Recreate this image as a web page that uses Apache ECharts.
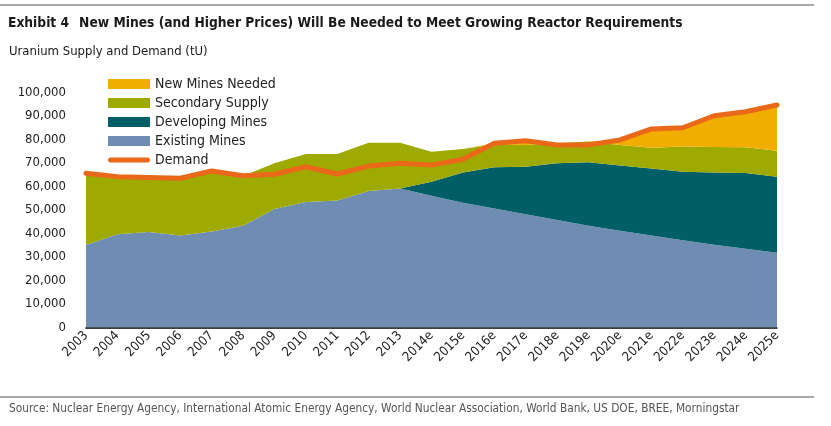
<!DOCTYPE html>
<html>
<head>
<meta charset="utf-8">
<script src="https://cdn.jsdelivr.net/npm/echarts@6/dist/echarts.min.js"></script>
<style>
html,body{margin:0;padding:0;background:#fff;}
#chart{width:831px;height:426px;}
</style>
</head>
<body>
<div id="chart"></div>
<script>
var categories = ['2003','2004','2005','2006','2007','2008','2009','2010','2011','2012','2013','2014e','2015e','2016e','2017e','2018e','2019e','2020e','2021e','2022e','2023e','2024e','2025e'];
var existingMines = [35100, 39700, 40600, 39200, 40800, 43300, 50400, 53400, 54000, 58100, 59200, 56100, 53100, 50600, 48200, 45700, 43300, 41200, 39100, 37100, 35200, 33500, 31800];
var developingMines = [0, 0, 0, 0, 0, 0, 0, 0, 0, 0, 0, 5900, 12900, 17600, 20200, 24200, 27000, 27700, 28600, 29200, 30800, 32200, 32400];
var secondarySupply = [30400, 24300, 22900, 24100, 25400, 21200, 19500, 20400, 19800, 20500, 19400, 12800, 10000, 9700, 9300, 8500, 8900, 8800, 8800, 10700, 10800, 11000, 11000];
var newMinesNeeded = [0, 0, 0, 0, 0, 0, 0, 0, 0, 0, 0, 0, 0, 500, 1800, 0, 0, 2100, 8000, 8000, 13300, 15100, 19500];
var demand = [65600, 64200, 63800, 63500, 66600, 64600, 65200, 68400, 65300, 68700, 69900, 69100, 71600, 78400, 79500, 77700, 77700, 79800, 84500, 85000, 90100, 91800, 94700];
var yTicks = {min: 0, max: 100000, interval: 10000};

var FONT = "'Liberation Sans Narrow', 'DejaVu Sans Condensed', 'Roboto', sans-serif";
var chart = echarts.init(document.getElementById('chart'));

function areaSeries(name, data, color) {
  return {
    name: name, type: 'line', stack: 'supply', data: data,
    symbol: 'none', smooth: false,
    lineStyle: {width: 0, color: color},
    itemStyle: {color: color},
    areaStyle: {color: color, opacity: 1},
    emphasis: {disabled: true}
  };
}

chart.setOption({
  animation: false,
  backgroundColor: '#fff',
  title: [
    {
      text: '{b|Exhibit 4}  {r|New Mines (and Higher Prices) Will Be Needed to Meet Growing Reactor Requirements}',
      left: 3, top: 9,
      textStyle: {
        rich: {
          b: {fontFamily: FONT, fontSize: 13.7, fontWeight: 'bold', color: '#1a1a1a'},
          r: {fontFamily: FONT, fontSize: 13.7, color: '#1a1a1a'}
        }
      }
    },
    {
      text: 'Uranium Supply and Demand (tU)',
      left: 4, top: 40,
      textStyle: {fontFamily: FONT, fontSize: 13, fontWeight: 'normal', color: '#1a1a1a'}
    },
    {
      text: 'Source: Nuclear Energy Agency, International Atomic Energy Agency, World Nuclear Association, World Bank, US DOE, BREE, Morningstar',
      left: 4, top: 398,
      textStyle: {fontFamily: FONT, fontSize: 11.8, fontWeight: 'normal', color: '#555'}
    }
  ],
  graphic: [
    {type: 'line', shape: {x1: 0, y1: 5, x2: 814, y2: 5}, style: {stroke: '#8a8a8a', lineWidth: 1.5}},
    {type: 'line', shape: {x1: 0, y1: 397, x2: 814, y2: 397}, style: {stroke: '#8a8a8a', lineWidth: 1.5}}
  ],
  legend: {
    orient: 'vertical',
    left: 103, top: 71.5,
    itemWidth: 42, itemHeight: 10, itemGap: 4,
    textStyle: {fontFamily: FONT, fontSize: 14, lineHeight: 15, color: '#222'},
    data: [
      {name: 'New Mines Needed', icon: 'rect'},
      {name: 'Secondary Supply', icon: 'rect'},
      {name: 'Developing Mines', icon: 'rect'},
      {name: 'Existing Mines', icon: 'rect'},
      {name: 'Demand', icon: 'path://M2.5,0 L39.5,0 A2.5,2.5 0 0 1 39.5,5 L2.5,5 A2.5,2.5 0 0 1 2.5,0 Z'}
    ],
    selectedMode: false
  },
  grid: {left: 86, right: 54, top: 92.5, bottom: 98.5, containLabel: false},
  xAxis: {
    type: 'category', data: categories, boundaryGap: false,
    axisLine: {show: true, lineStyle: {color: '#000', width: 1.5}},
    axisTick: {show: false},
    axisLabel: {interval: 0, rotate: 45, margin: 6, fontFamily: FONT, fontSize: 13, color: '#222'}
  },
  yAxis: {
    type: 'value', min: yTicks.min, max: yTicks.max, interval: yTicks.interval,
    axisLine: {show: false}, axisTick: {show: false}, splitLine: {show: false},
    axisLabel: {
      margin: 20, fontFamily: FONT, fontSize: 13, color: '#222',
      formatter: function (v) { return v.toLocaleString('en-US'); }
    }
  },
  series: [
    areaSeries('Existing Mines', existingMines, '#6F8DB2'),
    areaSeries('Developing Mines', developingMines, '#005F66'),
    areaSeries('Secondary Supply', secondarySupply, '#9FAA00'),
    areaSeries('New Mines Needed', newMinesNeeded, '#F2AE00'),
    {
      name: 'Demand', type: 'line', data: demand, symbol: 'none',
      lineStyle: {width: 5, color: '#E9681A', cap: 'round', join: 'round'},
      itemStyle: {color: '#E9681A'},
      emphasis: {disabled: true}, z: 5
    }
  ]
});
</script>
</body>
</html>
